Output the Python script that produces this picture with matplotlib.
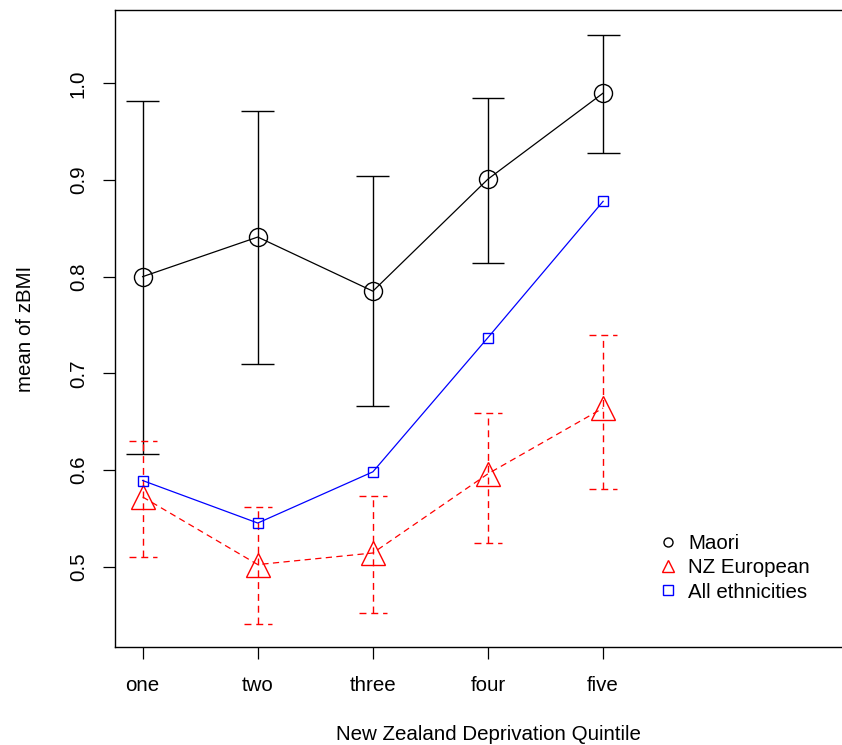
import matplotlib
matplotlib.use("Agg")
import matplotlib.pyplot as plt
from matplotlib.lines import Line2D

plt.rcParams['font.family'] = ['Liberation Sans', 'DejaVu Sans']

quintiles = ["one", "two", "three", "four", "five"]
xpos = [1, 2, 3, 4, 5]

maori_mean = [0.800, 0.841, 0.785, 0.901, 0.990]
maori_low = [0.616, 0.710, 0.666, 0.814, 0.928]
maori_high = [0.982, 0.971, 0.904, 0.985, 1.050]

nze_mean = [0.572, 0.502, 0.514, 0.596, 0.664]
nze_low = [0.510, 0.441, 0.452, 0.524, 0.580]
nze_high = [0.630, 0.562, 0.573, 0.659, 0.740]

all_mean = [0.589, 0.545, 0.598, 0.737, 0.878]

yticks = [0.5, 0.6, 0.7, 0.8, 0.9, 1.0]
legend_labels = ["Maori", "NZ European", "All ethnicities"]

W, H = 842, 745
fig = plt.figure(figsize=(W / 100, H / 100), dpi=100)
left, right, top, bottom = 115, 861, 10, 647
ax = fig.add_axes([left / W, 1 - bottom / H, (right - left) / W, (bottom - top) / H])

fs = 14.8
dash = (0, (5, 3.5))

# Maori error bars (solid)
ax.vlines(xpos, maori_low, maori_high, color='black', lw=1.0)
hw_m = 0.143
ax.hlines(maori_low, [x - hw_m for x in xpos], [x + hw_m for x in xpos], color='black', lw=1.0)
ax.hlines(maori_high, [x - hw_m for x in xpos], [x + hw_m for x in xpos], color='black', lw=1.0)
ax.plot(xpos, maori_mean, color='black', lw=0.9, marker='o', ms=13, mfc='none',
        mec='black', mew=1.0)

# NZ European error bars (dashed)
hw_n = 0.122
ax.vlines(xpos, nze_low, nze_high, color='#FF0000', lw=1.0, linestyles=[dash])
ax.hlines(nze_low, [x - hw_n for x in xpos], [x + hw_n for x in xpos], color='#FF0000',
          lw=1.0, linestyles=[dash])
ax.hlines(nze_high, [x - hw_n for x in xpos], [x + hw_n for x in xpos], color='#FF0000',
          lw=1.0, linestyles=[dash])
ax.plot(xpos, nze_mean, color='#FF0000', lw=0.9, ls=dash, marker='^', ms=17,
        mfc='none', mec='#FF0000', mew=1.0)

# All ethnicities
ax.plot(xpos, all_mean, color='#0000FF', lw=0.9, marker='s', ms=7, mfc='none',
        mec='#0000FF', mew=1.0)

ax.set_xlim(0.76, 7.24)
ax.set_ylim(0.4167, 1.076)
ax.set_xticks(xpos)
ax.set_xticklabels(quintiles, fontsize=fs)
ax.set_yticks(yticks)
ax.set_yticklabels([f"{v:.1f}" for v in yticks], fontsize=fs, rotation=90, va='center')
ax.tick_params(axis='x', direction='out', length=8.6, width=0.9, pad=12)
ax.tick_params(axis='y', direction='out', length=8.6, width=0.9, pad=11)
for s in ax.spines.values():
    s.set_linewidth(1.0)

ax.set_xlabel("New Zealand Deprivation Quintile", fontsize=fs, labelpad=22)
ax.set_ylabel("mean of zBMI", fontsize=fs, labelpad=24)

handles = [
    Line2D([], [], ls='none', marker='o', ms=6.5, mfc='none', mec='black', mew=1.0),
    Line2D([], [], ls='none', marker='^', ms=8, mfc='none', mec='#FF0000', mew=1.0),
    Line2D([], [], ls='none', marker='s', ms=6.5, mfc='none', mec='#0000FF', mew=1.0),
]
ax.legend(handles, legend_labels, loc='upper left', bbox_to_anchor=(0.717, 0.193),
          frameon=False, fontsize=fs, handlelength=0.8, handletextpad=0.55,
          labelspacing=0.25, borderpad=0)

fig.savefig("out.png", dpi=100)
